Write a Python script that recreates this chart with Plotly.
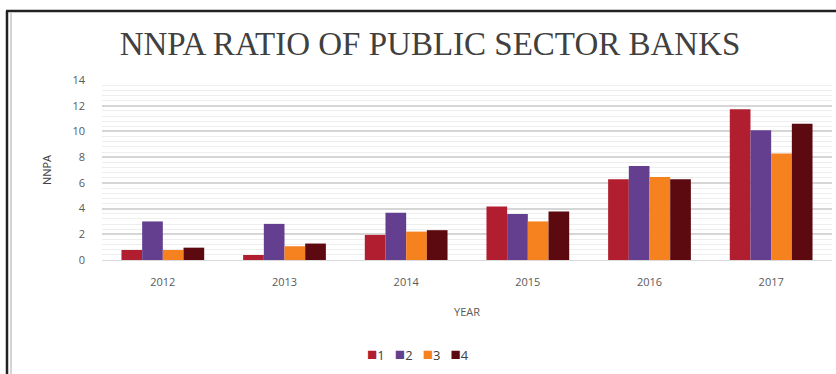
import plotly.graph_objects as go

# NNPA ratio (%) of public sector banks, by year, for four series
years = ["2012", "2013", "2014", "2015", "2016", "2017"]
series_names = ["1", "2", "3", "4"]
series_1 = [0.78, 0.39, 1.95, 4.17, 6.28, 11.72]
series_2 = [3.0, 2.81, 3.67, 3.57, 7.32, 10.1]
series_3 = [0.78, 1.07, 2.21, 3.0, 6.46, 8.28]
series_4 = [0.96, 1.28, 2.32, 3.78, 6.28, 10.6]
y_ticks = [0, 2, 4, 6, 8, 10, 12, 14]

colors = ["#B11E2F", "#653F8F", "#F5821F", "#5C0A0F"]
W, H = 836, 374
L, R, T, B = 102, 4, 80, 114
plot_w = W - L - R
plot_h = H - T - B

fig = go.Figure()
for name, vals, col in zip(series_names, [series_1, series_2, series_3, series_4], colors):
    fig.add_trace(go.Bar(x=years, y=vals, name=name, marker_color=col,
                         marker_line_width=0, showlegend=False))

def px_x(px):
    return (px - L) / plot_w

def px_y(py):
    return (H - B - py) / plot_h

# frame around the chart (top and left edges)
shapes = [
    dict(type="line", xref="paper", yref="paper", x0=px_x(6), x1=px_x(836),
         y0=px_y(11), y1=px_y(11), line=dict(color="#222222", width=2.5)),
    dict(type="line", xref="paper", yref="paper", x0=px_x(7), x1=px_x(7),
         y0=px_y(11), y1=px_y(374), line=dict(color="#222222", width=2.5)),
    dict(type="line", xref="paper", yref="paper", x0=px_x(11), x1=px_x(11),
         y0=px_y(13), y1=px_y(374), line=dict(color="#d4d4d4", width=2)),
]

# compact legend: coloured square + series name
legend_text = "&nbsp;&nbsp;&nbsp;".join(
    f'<span style="color:{c};font-size:17px">■</span>{n}' for n, c in zip(series_names, colors)
)

tick_font = dict(family="Open Sans, sans-serif", size=11, color="#595959")

fig.update_layout(
    width=W, height=H,
    margin=dict(l=L, r=R, t=T, b=B),
    paper_bgcolor="white", plot_bgcolor="white",
    barmode="group", bargap=0.32, bargroupgap=0,
    title=dict(text="NNPA RATIO OF PUBLIC SECTOR BANKS",
               font=dict(family="Liberation Serif, serif", size=33, color="#404040"),
               x=430 / W, xanchor="center", xref="container",
               y=1 - 43 / H, yanchor="middle", yref="container"),
    xaxis=dict(showline=True, linecolor="#d9d9d9", linewidth=1,
               tickfont=tick_font, ticks="", ticklabelstandoff=12,
               title=dict(text="YEAR", font=dict(family="Open Sans, sans-serif", size=11, color="#595959"),
                          standoff=20)),
    yaxis=dict(range=[0, 14], tickvals=y_ticks, tickfont=tick_font,
               showgrid=True, gridcolor="#d6d6d6", gridwidth=1.5, zeroline=False,
               minor=dict(dtick=0.4, showgrid=True, gridcolor="#eeeeee", gridwidth=1),
               ticklabelstandoff=16,
               title=dict(text="NNPA", font=dict(family="Open Sans, sans-serif", size=11, color="#404040"),
                          standoff=18)),
    annotations=[dict(text=legend_text, xref="paper", yref="paper",
                      x=px_x(418), y=px_y(353), xanchor="center", yanchor="middle",
                      showarrow=False,
                      font=dict(family="Open Sans, sans-serif", size=13, color="#404040"))],
    shapes=shapes,
)

fig.write_html("out.html")
